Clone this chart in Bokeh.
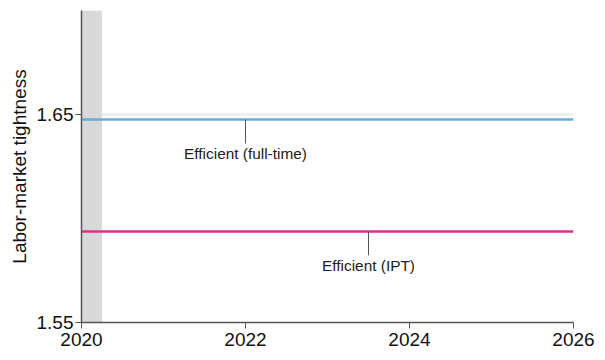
from bokeh.plotting import figure
from bokeh.embed import file_html
from bokeh.resources import INLINE
from bokeh.models import FixedTicker, Range1d
from bokeh.core.properties import value

years = [2020, 2026]
efficient_ft = [1.6476, 1.6476]
efficient_ipt = [1.5938, 1.5938]
recession_start = [2020.0]
recession_end = [2020.25]
label_text = ["Efficient (full-time)", "Efficient (IPT)"]
label_x = [2022.0, 2023.5]
label_y_line = [1.6476, 1.5938]
x_ticks = [2020, 2022, 2024, 2026]
y_ticks = [1.55, 1.65]

FONT = "Liberation Sans"

p = figure(width=597, height=360, output_backend="svg", toolbar_location=None,
           x_range=Range1d(2020, 2026), y_range=Range1d(1.55, 1.70),
           min_border_left=81, min_border_right=24, min_border_top=10, min_border_bottom=38)
p.outline_line_color = None
p.background_fill_color = "white"

# recession band
p.quad(left=recession_start, right=recession_end, bottom=[1.55], top=[1.70],
       fill_color="#d9d9d9", line_color=None)

p.line(years, efficient_ft, line_color="#66ADDD", line_width=2.5)
p.line(years, efficient_ipt, line_color="#E52D86", line_width=2.5)

# leader lines and labels
offs = 0.0115
p.segment(x0=label_x, y0=label_y_line, x1=label_x, y1=[v - offs for v in label_y_line],
          line_color="#555555", line_width=1)
p.text(x=label_x, y=[v - 0.0125 for v in label_y_line], text=label_text,
       text_align="center", text_baseline="top", text_font=value(FONT),
       text_font_size="15.4px", text_color="#222222")

p.xaxis.ticker = FixedTicker(ticks=x_ticks)
p.yaxis.ticker = FixedTicker(ticks=y_ticks)
p.yaxis.major_label_overrides = {1.55: "1.55", 1.65: "1.65"}
p.xaxis.major_label_overrides = {t: str(t) for t in x_ticks}
for ax in (p.xaxis, p.yaxis):
    ax.axis_line_color = "#555555"
    ax.axis_line_width = 1.5
    ax.major_tick_line_color = "#555555"
    ax.minor_tick_line_color = None
    ax.major_tick_out = 6
    ax.major_tick_in = 0
    ax.major_label_text_font = FONT
    ax.major_label_text_font_size = "19px"
    ax.major_label_text_color = "#111111"
p.yaxis.axis_label = "Labor-market tightness"
p.yaxis.axis_label_text_font = FONT
p.yaxis.axis_label_text_font_size = "19px"
p.yaxis.axis_label_text_font_style = "normal"
p.yaxis.axis_label_text_color = "#111111"
p.yaxis.axis_label_standoff = 4
p.yaxis.major_label_standoff = 2
p.xaxis.major_label_standoff = 4

p.xgrid.grid_line_color = None
p.ygrid.ticker = FixedTicker(ticks=[1.65])
p.ygrid.grid_line_color = "#eaeaea"
p.ygrid.grid_line_width = 2

open("out.html", "w").write(file_html(p, INLINE))
